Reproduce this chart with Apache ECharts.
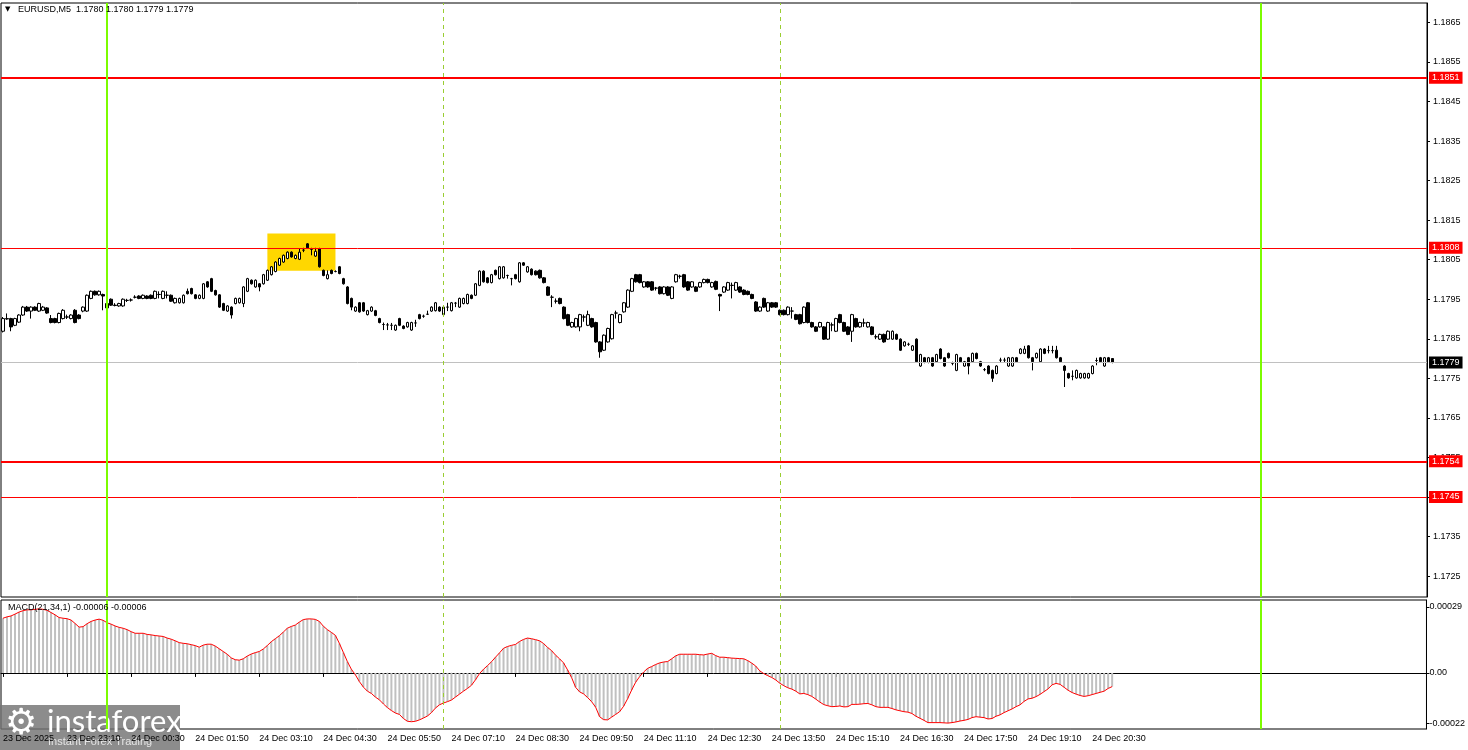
<!DOCTYPE html>
<html><head><meta charset="utf-8">
<script src="https://cdn.jsdelivr.net/npm/echarts@6/dist/echarts.min.js"></script>
<style>html,body{margin:0;padding:0;background:#fff}#c{width:1468px;height:750px}</style>
</head><body><div id="c"></div>
<script>
// ---- DATA (EURUSD M5, bars from 23 Dec 21:50) ----
const opens=[
1.17869,1.17900,1.17901,1.17884,1.17892,1.17910,1.17930,1.17920,1.17930,1.17920,
1.17922,1.17928,1.17901,1.17901,1.17891,1.17901,1.17905,1.17901,1.17922,1.17910,
1.17920,1.17920,1.17952,1.17970,1.17961,1.17962,1.17939,1.17950,1.17935,1.17933,
1.17933,1.17947,1.17948,1.17955,1.17958,1.17952,1.17958,1.17960,1.17952,1.17962,
1.17952,1.17960,1.17960,1.17941,1.17941,1.17941,1.17970,1.17977,1.17961,1.17952,
1.17952,1.17994,1.18002,1.17972,1.17961,1.17939,1.17920,1.17930,1.17939,1.17941,
1.17939,1.17970,1.17998,1.17981,1.17989,1.17989,1.17998,1.18012,1.18020,1.18036,
1.18044,1.18053,1.18069,1.18053,1.18051,1.18074,1.18090,1.18076,1.18059,1.18078,
1.18023,1.18002,1.18023,1.18020,1.18032,1.18002,1.17981,1.17952,1.17920,1.17941,
1.17941,1.17911,1.17920,1.17921,1.17901,1.17886,1.17885,1.17884,1.17872,1.17901,
1.17882,1.17880,1.17872,1.17890,1.17911,1.17907,1.17912,1.17920,1.17921,1.17930,
1.17911,1.17930,1.17921,1.17940,1.17930,1.17939,1.17939,1.17960,1.17960,1.17985,
1.18021,1.18004,1.17992,1.18023,1.18002,1.18004,1.18010,1.18002,1.18012,1.17994,
1.18042,1.18019,1.18026,1.18021,1.18023,1.18004,1.17981,1.17955,1.17945,1.17952,
1.17930,1.17911,1.17880,1.17880,1.17880,1.17905,1.17884,1.17901,1.17891,1.17842,
1.17821,1.17842,1.17850,1.17915,1.17891,1.17918,1.17930,1.17970,1.18012,1.18012,
1.17981,1.17994,1.17994,1.17978,1.17981,1.17964,1.17981,1.17952,1.17994,1.18008,
1.18012,1.17994,1.17981,1.17981,1.17981,1.17992,1.18000,1.17981,1.17995,1.17962,
1.17968,1.17973,1.17985,1.17973,1.17981,1.17973,1.17970,1.17962,1.17943,1.17920,
1.17952,1.17920,1.17941,1.17941,1.17922,1.17922,1.17911,1.17920,1.17911,1.17911,
1.17891,1.17941,1.17891,1.17880,1.17880,1.17880,1.17849,1.17885,1.17869,1.17911,
1.17891,1.17880,1.17869,1.17901,1.17880,1.17890,1.17880,1.17880,1.17855,1.17849,
1.17861,1.17849,1.17849,1.17861,1.17849,1.17832,1.17836,1.17821,1.17849,1.17781,
1.17802,1.17790,1.17802,1.17792,1.17824,1.17802,1.17813,1.17788,1.17770,1.17802,
1.17781,1.17802,1.17792,1.17813,1.17792,1.17772,1.17781,1.17770,1.17762,1.17796,
1.17796,1.17781,1.17781,1.17802,1.17813,1.17813,1.17832,1.17802,1.17802,1.17792,
1.17824,1.17820,1.17820,1.17821,1.17802,1.17781,1.17762,1.17755,1.17751,1.17751,
1.17751,1.17751,1.17762,1.17795,1.17802,1.17781,1.17802,1.17800];
const closes=[
1.17901,1.17901,1.17880,1.17901,1.17910,1.17930,1.17920,1.17930,1.17922,1.17939,
1.17930,1.17915,1.17891,1.17891,1.17914,1.17922,1.17905,1.17910,1.17891,1.17901,
1.17930,1.17960,1.17970,1.17961,1.17970,1.17958,1.17928,1.17935,1.17934,1.17939,
1.17950,1.17947,1.17948,1.17955,1.17952,1.17960,1.17952,1.17952,1.17970,1.17962,
1.17970,1.17960,1.17945,1.17952,1.17952,1.17960,1.17964,1.17964,1.17952,1.17960,
1.17989,1.17981,1.17970,1.17961,1.17930,1.17922,1.17933,1.17910,1.17952,1.17952,
1.17981,1.18002,1.17989,1.17998,1.17981,1.18012,1.18023,1.18032,1.18044,1.18053,
1.18061,1.18069,1.18057,1.18061,1.18069,1.18074,1.18080,1.18076,1.18071,1.18032,
1.18010,1.18012,1.18015,1.18020,1.18015,1.17989,1.17939,1.17930,1.17930,1.17918,
1.17920,1.17921,1.17930,1.17909,1.17891,1.17886,1.17885,1.17884,1.17884,1.17884,
1.17876,1.17891,1.17891,1.17890,1.17901,1.17907,1.17912,1.17930,1.17941,1.17920,
1.17930,1.17930,1.17941,1.17940,1.17952,1.17952,1.17962,1.17952,1.17989,1.18021,
1.17994,1.17992,1.18012,1.18012,1.18032,1.18032,1.18010,1.18002,1.18002,1.18042,
1.18036,1.18032,1.18012,1.18012,1.18004,1.17992,1.17960,1.17955,1.17945,1.17939,
1.17901,1.17884,1.17891,1.17901,1.17911,1.17905,1.17911,1.17880,1.17842,1.17817,
1.17859,1.17876,1.17911,1.17915,1.17911,1.17941,1.17973,1.18002,1.17994,1.17992,
1.17994,1.17981,1.17973,1.17978,1.17964,1.17981,1.17960,1.17981,1.18012,1.18008,
1.17981,1.17973,1.17994,1.17970,1.17992,1.18000,1.17992,1.17992,1.17975,1.17958,
1.17981,1.17992,1.17985,1.17992,1.17968,1.17962,1.17962,1.17952,1.17920,1.17930,
1.17930,1.17941,1.17930,1.17930,1.17911,1.17911,1.17930,1.17920,1.17899,1.17888,
1.17930,1.17891,1.17880,1.17869,1.17891,1.17849,1.17891,1.17885,1.17901,1.17891,
1.17869,1.17861,1.17911,1.17880,1.17891,1.17890,1.17891,1.17861,1.17855,1.17861,
1.17842,1.17869,1.17869,1.17849,1.17821,1.17842,1.17836,1.17832,1.17792,1.17810,
1.17790,1.17802,1.17781,1.17810,1.17800,1.17781,1.17802,1.17788,1.17810,1.17792,
1.17792,1.17781,1.17813,1.17800,1.17781,1.17772,1.17762,1.17750,1.17781,1.17796,
1.17796,1.17802,1.17802,1.17792,1.17824,1.17824,1.17802,1.17792,1.17813,1.17824,
1.17813,1.17820,1.17820,1.17802,1.17792,1.17770,1.17751,1.17755,1.17770,1.17762,
1.17762,1.17762,1.17781,1.17795,1.17792,1.17802,1.17792,1.17790];
const lows=[
1.17866,1.17898,1.17869,1.17882,1.17890,1.17908,1.17918,1.17901,1.17920,1.17918,
1.17920,1.17913,1.17889,1.17889,1.17889,1.17899,1.17900,1.17899,1.17889,1.17899,
1.17917,1.17918,1.17950,1.17959,1.17959,1.17922,1.17926,1.17933,1.17932,1.17931,
1.17931,1.17943,1.17944,1.17952,1.17950,1.17950,1.17950,1.17950,1.17950,1.17952,
1.17950,1.17952,1.17943,1.17939,1.17939,1.17939,1.17962,1.17962,1.17950,1.17950,
1.17950,1.17979,1.17968,1.17959,1.17928,1.17920,1.17918,1.17901,1.17937,1.17939,
1.17930,1.17968,1.17987,1.17979,1.17970,1.17987,1.17996,1.18010,1.18018,1.18034,
1.18042,1.18051,1.18055,1.18051,1.18049,1.18069,1.18078,1.18061,1.18057,1.18030,
1.18008,1.18000,1.18013,1.18018,1.18013,1.17987,1.17937,1.17922,1.17918,1.17916,
1.17918,1.17909,1.17918,1.17907,1.17889,1.17872,1.17872,1.17872,1.17870,1.17882,
1.17874,1.17878,1.17870,1.17880,1.17899,1.17903,1.17910,1.17918,1.17919,1.17918,
1.17909,1.17920,1.17919,1.17930,1.17928,1.17937,1.17937,1.17950,1.17958,1.17983,
1.17992,1.17990,1.17990,1.18010,1.18000,1.18002,1.18002,1.17985,1.18000,1.17992,
1.18034,1.18017,1.18010,1.18010,1.18002,1.17990,1.17958,1.17930,1.17939,1.17937,
1.17899,1.17882,1.17878,1.17878,1.17869,1.17893,1.17882,1.17878,1.17840,1.17802,
1.17819,1.17840,1.17848,1.17901,1.17889,1.17916,1.17928,1.17968,1.17992,1.17990,
1.17979,1.17979,1.17971,1.17972,1.17962,1.17962,1.17958,1.17950,1.17992,1.18002,
1.17979,1.17971,1.17979,1.17968,1.17979,1.17990,1.17990,1.17979,1.17973,1.17920,
1.17966,1.17971,1.17952,1.17971,1.17966,1.17960,1.17960,1.17950,1.17918,1.17918,
1.17928,1.17918,1.17928,1.17928,1.17909,1.17909,1.17909,1.17901,1.17897,1.17886,
1.17889,1.17889,1.17878,1.17867,1.17878,1.17847,1.17847,1.17869,1.17867,1.17889,
1.17867,1.17859,1.17842,1.17878,1.17878,1.17880,1.17878,1.17859,1.17849,1.17847,
1.17840,1.17847,1.17847,1.17847,1.17819,1.17830,1.17832,1.17819,1.17790,1.17779,
1.17788,1.17788,1.17779,1.17790,1.17798,1.17779,1.17800,1.17783,1.17768,1.17790,
1.17779,1.17760,1.17790,1.17798,1.17779,1.17768,1.17760,1.17741,1.17760,1.17790,
1.17790,1.17779,1.17779,1.17790,1.17811,1.17811,1.17800,1.17770,1.17800,1.17790,
1.17811,1.17813,1.17813,1.17800,1.17790,1.17728,1.17749,1.17745,1.17749,1.17749,
1.17749,1.17749,1.17760,1.17783,1.17790,1.17779,1.17790,1.17788];
const highs=[
1.17905,1.17914,1.17903,1.17903,1.17912,1.17933,1.17933,1.17932,1.17932,1.17941,
1.17933,1.17930,1.17910,1.17903,1.17916,1.17925,1.17911,1.17912,1.17925,1.17912,
1.17932,1.17962,1.17972,1.17972,1.17972,1.17964,1.17941,1.17952,1.17940,1.17941,
1.17952,1.17951,1.17952,1.17960,1.17960,1.17962,1.17960,1.17962,1.17972,1.17970,
1.17972,1.17970,1.17962,1.17954,1.17954,1.17962,1.17977,1.17979,1.17963,1.17962,
1.17991,1.17996,1.18004,1.17974,1.17963,1.17941,1.17935,1.17932,1.17954,1.17954,
1.17983,1.18004,1.18000,1.18000,1.17991,1.18014,1.18025,1.18034,1.18046,1.18055,
1.18063,1.18071,1.18071,1.18063,1.18078,1.18080,1.18092,1.18080,1.18080,1.18080,
1.18025,1.18023,1.18025,1.18023,1.18034,1.18004,1.17983,1.17954,1.17932,1.17943,
1.17943,1.17923,1.17932,1.17923,1.17903,1.17891,1.17890,1.17890,1.17886,1.17903,
1.17884,1.17893,1.17893,1.17898,1.17913,1.17911,1.17921,1.17932,1.17943,1.17932,
1.17932,1.17941,1.17943,1.17943,1.17954,1.17954,1.17964,1.17962,1.17991,1.18023,
1.18023,1.18006,1.18014,1.18025,1.18034,1.18034,1.18012,1.18004,1.18014,1.18044,
1.18044,1.18034,1.18028,1.18023,1.18025,1.18006,1.17983,1.17960,1.17952,1.17954,
1.17932,1.17913,1.17893,1.17903,1.17913,1.17911,1.17921,1.17903,1.17893,1.17844,
1.17861,1.17878,1.17913,1.17921,1.17913,1.17943,1.17975,1.18004,1.18014,1.18014,
1.17996,1.17996,1.17996,1.17981,1.17983,1.17983,1.17983,1.17983,1.18014,1.18012,
1.18014,1.17996,1.17996,1.17983,1.17994,1.18002,1.18002,1.17994,1.17997,1.17964,
1.17983,1.17994,1.17992,1.17994,1.17983,1.17975,1.17972,1.17964,1.17945,1.17932,
1.17954,1.17943,1.17943,1.17943,1.17924,1.17924,1.17932,1.17930,1.17913,1.17913,
1.17932,1.17943,1.17893,1.17882,1.17893,1.17882,1.17893,1.17891,1.17903,1.17913,
1.17893,1.17882,1.17913,1.17903,1.17893,1.17901,1.17893,1.17882,1.17861,1.17863,
1.17863,1.17871,1.17871,1.17863,1.17851,1.17844,1.17840,1.17834,1.17851,1.17812,
1.17804,1.17804,1.17804,1.17812,1.17826,1.17804,1.17815,1.17792,1.17812,1.17804,
1.17794,1.17804,1.17815,1.17815,1.17794,1.17776,1.17783,1.17772,1.17783,1.17802,
1.17802,1.17804,1.17804,1.17804,1.17826,1.17832,1.17834,1.17804,1.17815,1.17826,
1.17826,1.17832,1.17832,1.17832,1.17804,1.17783,1.17764,1.17770,1.17772,1.17764,
1.17764,1.17764,1.17783,1.17802,1.17804,1.17804,1.17804,1.17800];
// MACD(21,34,1) main value per bar (signal = SMA(1) = same)
const macdValues=[
0.000240,0.000246,0.000250,0.000258,0.000267,0.000273,0.000277,0.000277,0.000279,0.000281,
0.000279,0.000275,0.000265,0.000255,0.000243,0.000240,0.000238,0.000232,0.000217,0.000201,
0.000203,0.000216,0.000226,0.000232,0.000236,0.000231,0.000220,0.000214,0.000206,0.000200,
0.000196,0.000190,0.000181,0.000174,0.000174,0.000174,0.000169,0.000167,0.000164,0.000162,
0.000160,0.000153,0.000148,0.000141,0.000133,0.000130,0.000128,0.000124,0.000120,0.000113,
0.000122,0.000126,0.000126,0.000118,0.000106,0.000094,0.000082,0.000066,0.000058,0.000056,
0.000062,0.000074,0.000083,0.000089,0.000094,0.000105,0.000120,0.000137,0.000150,0.000163,
0.000179,0.000196,0.000204,0.000210,0.000223,0.000234,0.000237,0.000237,0.000235,0.000226,
0.000205,0.000190,0.000178,0.000165,0.000130,0.000090,0.000050,0.000016,-0.000008,-0.000038,
-0.000062,-0.000080,-0.000090,-0.000106,-0.000118,-0.000136,-0.000152,-0.000165,-0.000176,-0.000182,
-0.000200,-0.000212,-0.000214,-0.000212,-0.000206,-0.000198,-0.000189,-0.000174,-0.000154,-0.000140,
-0.000132,-0.000126,-0.000119,-0.000106,-0.000093,-0.000080,-0.000068,-0.000054,-0.000030,-0.000003,
0.000016,0.000032,0.000049,0.000069,0.000088,0.000108,0.000116,0.000121,0.000125,0.000138,
0.000147,0.000153,0.000150,0.000146,0.000141,0.000129,0.000112,0.000098,0.000078,0.000062,
0.000044,0.000013,-0.000020,-0.000063,-0.000083,-0.000092,-0.000108,-0.000126,-0.000150,-0.000192,
-0.000205,-0.000206,-0.000194,-0.000182,-0.000170,-0.000146,-0.000113,-0.000075,-0.000041,-0.000016,
0.000004,0.000020,0.000028,0.000037,0.000044,0.000048,0.000050,0.000062,0.000075,0.000082,
0.000082,0.000082,0.000082,0.000082,0.000080,0.000079,0.000083,0.000086,0.000076,0.000069,
0.000069,0.000067,0.000065,0.000064,0.000063,0.000062,0.000054,0.000043,0.000030,0.000009,
-0.000003,-0.000012,-0.000020,-0.000031,-0.000045,-0.000056,-0.000065,-0.000071,-0.000080,-0.000092,
-0.000090,-0.000095,-0.000103,-0.000115,-0.000128,-0.000139,-0.000144,-0.000148,-0.000147,-0.000145,
-0.000149,-0.000148,-0.000138,-0.000138,-0.000137,-0.000135,-0.000134,-0.000140,-0.000148,-0.000151,
-0.000151,-0.000151,-0.000156,-0.000162,-0.000166,-0.000170,-0.000172,-0.000178,-0.000190,-0.000199,
-0.000208,-0.000218,-0.000218,-0.000218,-0.000218,-0.000219,-0.000220,-0.000218,-0.000215,-0.000211,
-0.000208,-0.000204,-0.000196,-0.000192,-0.000194,-0.000196,-0.000202,-0.000200,-0.000190,-0.000184,
-0.000174,-0.000166,-0.000158,-0.000148,-0.000140,-0.000125,-0.000114,-0.000111,-0.000104,-0.000094,
-0.000082,-0.000070,-0.000052,-0.000046,-0.000050,-0.000063,-0.000076,-0.000086,-0.000093,-0.000099,
-0.000103,-0.000100,-0.000095,-0.000090,-0.000085,-0.000080,-0.000068,-0.000060];
const xTickLabels=['23 Dec 2025','23 Dec 23:10','24 Dec 00:30','24 Dec 01:50','24 Dec 03:10','24 Dec 04:30',
'24 Dec 05:50','24 Dec 07:10','24 Dec 08:30','24 Dec 09:50','24 Dec 11:10','24 Dec 12:30','24 Dec 13:50',
'24 Dec 15:10','24 Dec 16:30','24 Dec 17:50','24 Dec 19:10','24 Dec 20:30'];
const priceTicks=[1.1725,1.1735,1.1745,1.1755,1.1765,1.1775,1.1785,1.1795,1.1805,1.1815,1.1825,1.1835,1.1845,1.1855,1.1865];
const macdTicks=[-0.00022,0,0.00029];
const redLevelsThick=[1.1851,1.1754];
const redLevelsThin=[1.1808,1.1745];
const currentPrice=1.1779;
const dayLines=['24 Dec 00:00','25 Dec 00:00'];
const sepLines=['24 Dec 07:00','24 Dec 14:00'];
const boxFrom=['24 Dec 03:20',1.18116], boxTo=['24 Dec 04:45',1.18022];

// ---- categories (5-minute slots) ----
const NCAT=356;
const cats=[];
for(let i=0;i<NCAT;i++){
  const t=21*60+50+5*i; const d=23+Math.floor(t/1440); const m=t%1440;
  cats.push(d+' Dec '+String(Math.floor(m/60)).padStart(2,'0')+':'+String(m%60).padStart(2,'0'));
}
const candle=opens.map((o,i)=>[o,closes[i],lows[i],highs[i]]);
const FONT='Liberation Sans, Arial, sans-serif';
const labelFn=(idx)=>idx%16===0 && idx/16<xTickLabels.length;

function lvl(v,color,w,bg){
  return {yAxis:v,lineStyle:{color:color,width:w,type:'solid'},
    label:{show:true,position:'end',distance:2,formatter:v.toFixed(4),color:'#fff',backgroundColor:bg,
      padding:[2,3,1,3],fontSize:9,fontFamily:FONT}};
}
const vlines=(arr,color,w,type)=>arr.map(c=>({xAxis:c,lineStyle:{color:color,width:w,type:type},label:{show:false}}));

const chart=echarts.init(document.getElementById('c'),null,{renderer:'canvas'});
chart.setOption({
  animation:false,
  backgroundColor:'#fff',
  grid:[
    {left:1,top:3,width:1426,height:594,show:true,borderColor:'#000',borderWidth:1,backgroundColor:'#fff'},
    {left:1,top:600,width:1426,height:129,show:true,borderColor:'#000',borderWidth:1,backgroundColor:'#fff'}
  ],
  xAxis:[
    {type:'category',gridIndex:0,data:cats,boundaryGap:true,show:false},
    {type:'category',gridIndex:1,data:cats,boundaryGap:true,
      axisLine:{show:true,lineStyle:{color:'#000'}},
      axisTick:{show:true,interval:labelFn,alignWithLabel:true,length:4,lineStyle:{color:'#000'}},
      axisLabel:{show:true,interval:labelFn,formatter:(v,idx)=>xTickLabels[idx/16],align:'left',
        color:'#000',fontSize:9,fontFamily:FONT,margin:5,hideOverlap:false},
      splitLine:{show:false}}
  ],
  yAxis:[
    {type:'value',gridIndex:0,position:'right',min:1.17197,max:1.18699,scale:true,
      axisLine:{show:true,lineStyle:{color:'#000'}},
      axisTick:{show:true,length:3,customValues:priceTicks,lineStyle:{color:'#000'}},
      axisLabel:{show:true,customValues:priceTicks,formatter:v=>v.toFixed(4),color:'#000',fontSize:9,fontFamily:FONT,margin:6},
      splitLine:{show:false}},
    {type:'value',gridIndex:1,position:'right',min:-0.000246,max:0.00032,
      axisLine:{show:true,lineStyle:{color:'#000'}},
      axisTick:{show:true,length:3,customValues:macdTicks,lineStyle:{color:'#000'}},
      axisLabel:{show:true,customValues:macdTicks,formatter:v=>Math.abs(v)<1e-9?'0.00':v.toFixed(5),color:'#000',fontSize:9,fontFamily:FONT,margin:3},
      splitLine:{show:false}}
  ],
  series:[
    {type:'line',name:'levels',xAxisIndex:0,yAxisIndex:0,data:[],z:1,
      markLine:{silent:true,symbol:['none','none'],animation:false,precision:4,
        data:[
          lvl(currentPrice,'#C0C0C0',1,'#000'),
          lvl(redLevelsThin[0],'#FF0000',1,'#FF0000'),
          lvl(redLevelsThin[1],'#FF0000',1,'#FF0000'),
          lvl(redLevelsThick[0],'#FF0000',2,'#FF0000'),
          lvl(redLevelsThick[1],'#FF0000',2,'#FF0000')
        ]}},
    {type:'line',name:'vlines',xAxisIndex:0,yAxisIndex:0,data:[],z:1,
      markLine:{silent:true,symbol:['none','none'],animation:false,
        data:[...vlines(sepLines,'#9ACD32',1,[4,4]),...vlines(dayLines,'#7CFC00',2,'solid')]}},
    {type:'candlestick',xAxisIndex:0,yAxisIndex:0,data:candle,barWidth:3,z:3,
      itemStyle:{color:'#fff',color0:'#000',borderColor:'#000',borderColor0:'#000',borderWidth:1},
      markArea:{silent:true,itemStyle:{color:'#FFD700',opacity:1},
        data:[[{xAxis:boxFrom[0],yAxis:boxFrom[1]},{xAxis:boxTo[0],yAxis:boxTo[1]}]]}},
    {type:'bar',xAxisIndex:1,yAxisIndex:1,data:macdValues,barWidth:2,itemStyle:{color:'#C0C0C0'},
      markLine:{silent:true,symbol:['none','none'],animation:false,
        data:[...vlines(sepLines,'#9ACD32',1,[4,4]),...vlines(dayLines,'#7CFC00',2,'solid')]}},
    {type:'line',xAxisIndex:1,yAxisIndex:1,data:macdValues,showSymbol:false,symbol:'none',
      lineStyle:{color:'#FF0000',width:1},z:4}
  ],
  graphic:[
    {type:'text',left:5,top:6,z:100,style:{text:'▼',fontSize:7,fill:'#000',fontFamily:'DejaVu Sans'}},
    {type:'text',left:18,top:5,z:100,style:{text:'EURUSD,M5  1.1780 1.1780 1.1779 1.1779',fontSize:9,fill:'#000',fontFamily:FONT}},
    {type:'text',left:8,top:603,z:100,style:{text:'MACD(21,34,1) -0.00006 -0.00006',fontSize:9,fill:'#000',fontFamily:FONT}},
    {type:'group',left:0,top:705,z:200,children:[
      {type:'rect',shape:{x:0,y:0,width:180,height:45},style:{fill:'rgba(115,115,115,0.82)'}},
      {type:'text',x:5,y:2,style:{text:'⚙',fontSize:36,fill:'#fff',fontFamily:'DejaVu Sans'}},
      {type:'text',x:47,y:1,style:{text:'instaforex',fontSize:31,fill:'#fff',fontFamily:'Lato, Open Sans, sans-serif'}},
      {type:'text',x:48,y:31,style:{text:'Instant Forex Trading',fontSize:11,fill:'#e6e6e6',fontFamily:FONT}}
    ]}
  ]
});
</script>
</body></html>
